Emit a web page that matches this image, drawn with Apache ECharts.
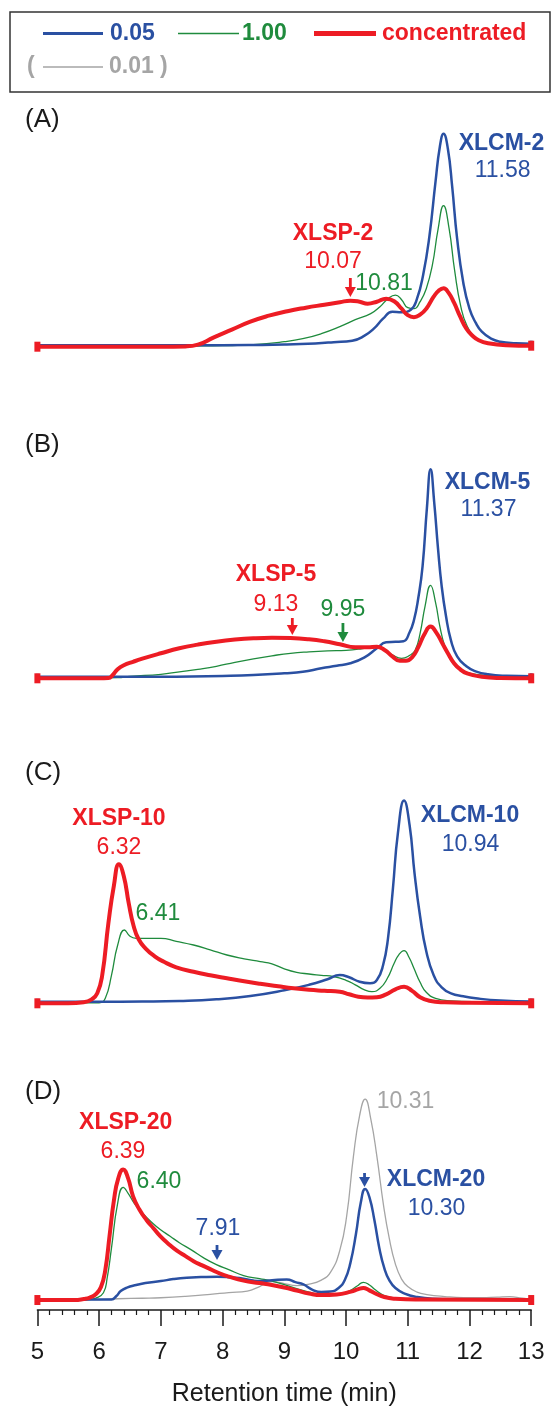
<!DOCTYPE html>
<html>
<head>
<meta charset="utf-8">
<script src="https://cdn.jsdelivr.net/npm/echarts@6.0.0/dist/echarts.min.js"></script>
<style>
html, body { margin: 0; padding: 0; background: #fff; }
#main { width: 559px; height: 1408px; }
</style>
</head>
<body>
<div id="main"></div>
<script>
// retention time (min) vs detector signal, signal
var xTickLabels = ['5', '6', '7', '8', '9', '10', '11', '12', '13'];

// (A) XLSP-2 / XLCM-2
var aBlue = [[5,1.5],[6,1.5],[7,1.5],[8,1.5],[8.5,1.7],[9,2.2],[9.5,3.3],[9.8,4.5],[10.1,6],[10.3,11],[10.45,18],[10.6,28],[10.75,35],[10.9,34.5],[11.05,37],[11.15,48],[11.25,72],[11.35,110],[11.45,165],[11.52,200],[11.58,213],[11.65,198],[11.72,160],[11.8,108],[11.9,64],[12.0,38],[12.1,24],[12.2,15],[12.35,8],[12.5,5],[12.75,3.5],[13,3]];
var aGreen = [[5,0.5],[6,0.5],[7,0.5],[7.5,0.7],[8,1],[8.5,2],[9,5],[9.3,8],[9.6,13],[9.9,20],[10.15,27],[10.4,33],[10.55,40],[10.68,48],[10.8,51.5],[10.9,47],[11.0,39],[11.1,38],[11.2,45],[11.3,58],[11.4,82],[11.49,117],[11.58,141],[11.67,118],[11.76,76],[11.86,40],[11.96,21],[12.1,9],[12.3,4],[12.6,2],[13,1.7]];
var aRed = [[5,0],[6,0],[7,0],[7.4,0.3],[7.6,2],[7.85,9],[8.15,17],[8.45,25],[8.75,31],[9.05,35.5],[9.35,39],[9.65,42],[9.9,44.5],[10.07,46],[10.22,45],[10.35,43],[10.5,45],[10.65,48],[10.78,45.5],[10.9,38],[11.0,31.5],[11.1,29.5],[11.2,32],[11.3,38],[11.42,50],[11.5,56],[11.58,58.5],[11.66,54],[11.75,44],[11.85,30],[11.95,18],[12.05,11],[12.15,6.5],[12.3,3.5],[12.6,1.5],[13,1]];

// (B) XLSP-5 / XLCM-5
var bBlue = [[5,1.5],[6,1.5],[7,1.5],[7.5,1.7],[8,2.3],[8.5,3.3],[9,5],[9.3,6.5],[9.6,10],[9.85,12.5],[10.07,15],[10.3,21],[10.5,30],[10.65,36],[10.8,36.5],[10.93,37],[11.03,46],[11.1,58],[11.17,80],[11.24,112],[11.31,170],[11.37,209],[11.43,175],[11.49,130],[11.55,92],[11.62,62],[11.7,38],[11.8,22],[11.95,12],[12.1,7],[12.3,4],[12.6,2.5],[13,2]];
var bGreen = [[5,0.5],[6,0.5],[6.3,0.6],[6.5,2],[7,4],[7.3,6.5],[7.6,9],[7.9,12],[8.2,16],[8.5,19.5],[8.8,22.5],[9.1,25],[9.4,26.5],[9.7,27.5],[10.0,28],[10.25,29.5],[10.45,31.5],[10.6,29],[10.75,23.5],[10.9,20],[11.02,22.5],[11.12,28],[11.2,45],[11.28,72],[11.37,93],[11.45,76],[11.52,52],[11.6,32],[11.7,18],[11.85,9],[12.05,4.5],[12.4,2.5],[13,1]];
var bRed = [[5,0],[6,0],[6.15,0.2],[6.22,3.3],[6.3,9],[6.4,13],[6.55,16.5],[6.7,19.6],[7.0,25],[7.3,30],[7.6,33.7],[7.9,36.6],[8.2,38.7],[8.5,40],[8.8,40.5],[9.1,40.2],[9.4,39],[9.65,37],[9.9,34],[10.15,31],[10.35,31],[10.5,31.5],[10.63,28],[10.75,22],[10.87,17.5],[10.97,17.5],[11.07,21],[11.17,31],[11.27,44],[11.37,51.7],[11.46,46],[11.56,35],[11.65,25],[11.75,15],[11.85,9],[11.96,5],[12.2,1.5],[12.5,0.3],[13,0]];

// (C) XLSP-10 / XLCM-10
var cBlue = [[5,1.5],[6,1.5],[6.7,1.7],[7.3,2.3],[7.9,4],[8.45,7.3],[9.0,13],[9.4,18.5],[9.7,24],[9.9,28.3],[10.05,26],[10.22,21.5],[10.39,20],[10.5,23.3],[10.6,38],[10.68,65],[10.76,115],[10.84,170],[10.94,202.7],[11.03,178],[11.11,130],[11.2,87],[11.3,52],[11.42,28],[11.55,16],[11.7,10],[11.9,7],[12.1,5],[12.5,2.7],[13,1.7]];
var cGreen = [[5,0.5],[6,0.5],[6.1,5],[6.2,28],[6.3,58],[6.41,73.3],[6.5,67],[6.6,65],[6.8,65],[7.0,65],[7.25,62],[7.53,58.3],[7.8,53.5],[8.07,48.3],[8.35,44.5],[8.61,41.7],[8.8,39.5],[9.0,34.5],[9.2,31],[9.4,29.3],[9.6,28],[9.8,26.7],[10.0,23],[10.15,18.5],[10.3,13.5],[10.42,11.7],[10.55,15],[10.67,25],[10.78,40],[10.86,49],[10.94,52.7],[11.02,46],[11.1,35],[11.2,21],[11.3,11],[11.45,5],[11.7,2.5],[12.2,1.5],[13,1]];
var cRed = [[5,0],[5.5,0],[5.75,1],[5.88,4],[5.97,10],[6.05,28],[6.15,80],[6.24,118],[6.32,139],[6.4,127],[6.48,100],[6.56,77],[6.64,64],[6.75,55],[6.9,47],[7.05,41.5],[7.25,36],[7.53,31.5],[7.8,28],[8.07,25],[8.35,22],[8.61,19.5],[8.9,17],[9.15,15],[9.4,13.5],[9.65,12.5],[9.9,11.5],[10.05,9],[10.2,6.5],[10.35,5.7],[10.5,6],[10.65,9],[10.8,14],[10.94,16.5],[11.07,12.5],[11.2,6],[11.35,2.5],[11.6,1],[12,0.5],[13,0]];

// (D) XLSP-20 / XLCM-20, plus the 0.01 trace
var dGray = [[5,0.5],[6,0.5],[6.3,1.3],[6.7,1.8],[7.0,2.3],[7.4,3.7],[7.8,5.7],[8.1,7.5],[8.4,9],[8.6,13.5],[8.8,18.5],[9.0,16.5],[9.2,14.5],[9.4,16],[9.6,20],[9.75,28],[9.9,50],[10.01,84],[10.12,144],[10.22,185],[10.31,201.4],[10.4,182],[10.5,144],[10.61,94],[10.7,62],[10.8,36],[10.9,21],[11.0,13.5],[11.15,8],[11.31,5.5],[11.6,3.5],[11.9,2.5],[12.2,2.5],[12.45,3],[12.65,3.4],[12.85,2],[13,1]];
var dBlue = [[5,0.5],[6,0.5],[6.2,0.6],[6.28,4],[6.35,9],[6.45,12.4],[6.6,15],[6.75,17],[7.0,19],[7.2,21],[7.42,22.4],[7.65,23],[7.91,23.4],[8.15,22.5],[8.34,21.4],[8.5,19.5],[8.61,19],[8.8,19.8],[9.04,20.7],[9.18,18],[9.31,15.7],[9.45,10.5],[9.6,8],[9.75,8.5],[9.88,12],[9.98,20],[10.07,37],[10.16,66],[10.24,98],[10.31,111.4],[10.38,103],[10.46,80],[10.54,52],[10.62,32],[10.7,20],[10.8,12],[10.95,6.5],[11.15,3],[11.4,1.3],[12,0.7],[13,0.5]];
var dGreen = [[5,0],[5.8,0.3],[5.95,2],[6.07,7.3],[6.13,22],[6.2,52],[6.3,97],[6.39,113],[6.47,107],[6.57,97],[6.7,87.3],[6.85,78],[6.99,70.7],[7.15,64],[7.3,57.5],[7.5,50],[7.7,42],[7.9,35.5],[8.1,30.5],[8.34,24.5],[8.6,21.5],[8.8,19],[9.0,15.5],[9.2,11.5],[9.4,8],[9.6,5.5],[9.85,5.8],[10.05,9],[10.18,14],[10.28,17.8],[10.38,15],[10.48,10],[10.6,5],[10.75,2.3],[11.0,1.2],[12,0.7],[13,0.5]];
var dRed = [[5,0],[5.6,0],[5.75,1],[5.85,2.5],[5.95,6],[6.03,13],[6.1,30],[6.17,65],[6.24,100],[6.31,122],[6.39,131],[6.47,122],[6.55,104],[6.65,91],[6.77,80],[6.88,72],[6.99,64],[7.12,56.5],[7.26,49.5],[7.4,44],[7.53,39],[7.66,35],[7.8,31],[7.96,26.5],[8.1,23.5],[8.34,19.5],[8.6,17],[8.8,15],[9.0,12.5],[9.2,9.5],[9.4,6.5],[9.6,5],[9.85,5.5],[10.08,8.4],[10.2,11],[10.28,12],[10.37,10],[10.46,7],[10.62,3],[10.8,1.3],[11.2,0.5],[13,0]];

var BLUE = '#2a50a2', GREEN = '#1f8b3d', RED = '#ed1c24', GRAY = '#a5a5a5', INK = '#1a1a1a';
var FONT = '"Liberation Sans", Arial, sans-serif';

var chart = echarts.init(document.getElementById('main'));

// panel grids, bottom edge sits 10px under each baseline
var gridTops = [106.7, 438.3, 763.3, 1060.7];

function pts(arr, size) {
    return arr.map(function (p, i) {
        var d = {value: p};
        if (size && (i === 0 || i === arr.length - 1)) {
            d.symbol = 'rect';
            d.symbolSize = size;
        }
        return d;
    });
}
function trace(arr, panel, color, width, size, z) {
    return {
        type: 'line', xAxisIndex: panel, yAxisIndex: panel,
        data: pts(arr, size), symbol: 'none', showSymbol: true,
        smooth: 0.5,
        lineStyle: {color: color, width: width, join: 'round', cap: 'round'},
        itemStyle: {color: color},
        silent: true, z: z
    };
}

var grids = [], xAxes = [], yAxes = [];
gridTops.forEach(function (top, i) {
    grids.push({left: 37.4, width: 493.8, top: top, height: 250});
    yAxes.push({gridIndex: i, type: 'value', min: -10, max: 240, show: false});
    var last = i === gridTops.length - 1;
    xAxes.push({
        gridIndex: i, type: 'value', min: 5, max: 13, interval: 1, show: last,
        axisLine: {show: true, onZero: false, lineStyle: {color: INK, width: 1.5}},
        axisTick: {show: true, inside: false, length: 16, lineStyle: {color: INK, width: 1.5}},
        minorTick: {show: true, splitNumber: 5, length: 5, lineStyle: {color: INK, width: 1.2}},
        splitLine: {show: false},
        axisLabel: {
            margin: 30, fontSize: 24, color: INK, fontFamily: FONT,
            formatter: function (v) { return xTickLabels[Math.round(v - 5)]; }
        },
        name: last ? 'Retention time (min)' : '', nameLocation: 'middle', nameGap: 72,
        nameTextStyle: {fontSize: 25, color: INK, fontFamily: FONT}
    });
});

var series = [
    trace(aGreen, 0, GREEN, 1.3, null, 2),
    trace(aBlue, 0, BLUE, 2.5, [3, 6], 3),
    trace(aRed, 0, RED, 4, [6, 10], 4),
    trace(bGreen, 1, GREEN, 1.3, null, 2),
    trace(bBlue, 1, BLUE, 2.5, [3, 6], 3),
    trace(bRed, 1, RED, 4, [6, 10], 4),
    trace(cGreen, 2, GREEN, 1.3, null, 2),
    trace(cBlue, 2, BLUE, 2.5, [3, 6], 3),
    trace(cRed, 2, RED, 4, [6, 10], 4),
    trace(dGray, 3, GRAY, 1.3, null, 1),
    trace(dGreen, 3, GREEN, 1.3, null, 2),
    trace(dBlue, 3, BLUE, 2.5, null, 3),
    trace(dRed, 3, RED, 4, [6, 10], 4)
];

chart.setOption({
    backgroundColor: '#fff',
    animation: false,
    grid: grids,
    xAxis: xAxes,
    yAxis: yAxes,
    series: series
});

function txt(s, x, y, color, bold, size, align) {
    return {
        type: 'text', x: x, y: y, silent: true, z: 10,
        style: {
            text: s, fill: color, align: align || 'center', verticalAlign: 'middle',
            font: (bold ? 'bold ' : '') + (size || 23) + 'px ' + FONT
        }
    };
}
function seg(x1, x2, y, color, w) {
    return {type: 'line', silent: true, shape: {x1: x1, y1: y, x2: x2, y2: y}, style: {stroke: color, lineWidth: w}};
}
function arrow(panel, t, y1, y2, color) {
    var x = chart.convertToPixel({xAxisIndex: panel}, t);
    return {
        type: 'group', silent: true, children: [
            {type: 'line', shape: {x1: x, y1: y1, x2: x, y2: y2 - 8}, style: {stroke: color, lineWidth: 2.8}},
            {type: 'polygon', shape: {points: [[x - 5.5, y2 - 10], [x + 5.5, y2 - 10], [x, y2]]}, style: {fill: color}}
        ]
    };
}

var g = [];
// legend box
g.push({type: 'rect', silent: true, shape: {x: 10, y: 12, width: 540, height: 80},
    style: {fill: 'none', stroke: '#333', lineWidth: 1.5}});
g.push(seg(43, 103, 33.5, BLUE, 3));
g.push(txt('0.05', 110, 34, BLUE, true, 23, 'left'));
g.push(seg(178, 239, 33.5, GREEN, 1.5));
g.push(txt('1.00', 242, 34, GREEN, true, 23, 'left'));
g.push(seg(314, 376, 33.5, RED, 5));
g.push(txt('concentrated', 382, 34, RED, true, 23, 'left'));
g.push(txt('(', 27, 67, GRAY, true, 23, 'left'));
g.push(seg(43, 103, 67, GRAY, 1.5));
g.push(txt('0.01', 109, 67, GRAY, true, 23, 'left'));
g.push(txt(')', 160, 67, GRAY, true, 23, 'left'));

// panel letters
g.push(txt('(A)', 25, 120, INK, false, 26, 'left'));
g.push(txt('(B)', 25, 445, INK, false, 26, 'left'));
g.push(txt('(C)', 25, 773, INK, false, 26, 'left'));
g.push(txt('(D)', 25, 1092, INK, false, 26, 'left'));

// (A)
g.push(txt('XLCM-2', 501.5, 143.3, BLUE, true));
g.push(txt('11.58', 502.6, 170.8, BLUE, false));
g.push(txt('XLSP-2', 333, 233.3, RED, true));
g.push(txt('10.07', 333, 261.7, RED, false));
g.push(txt('10.81', 384, 283.3, GREEN, false));
g.push(arrow(0, 10.07, 278, 297, RED));
// (B)
g.push(txt('XLCM-5', 487.5, 482.5, BLUE, true));
g.push(txt('11.37', 488.5, 510, BLUE, false));
g.push(txt('XLSP-5', 276, 575, RED, true));
g.push(txt('9.13', 276, 605, RED, false));
g.push(txt('9.95', 343, 610, GREEN, false));
g.push(arrow(1, 9.13, 618, 635, RED));
g.push(arrow(1, 9.95, 623, 642, GREEN));
// (C)
g.push(txt('XLSP-10', 119, 819, RED, true));
g.push(txt('6.32', 119, 848, RED, false));
g.push(txt('XLCM-10', 470, 816, BLUE, true));
g.push(txt('10.94', 470.5, 845, BLUE, false));
g.push(txt('6.41', 158, 914, GREEN, false));
// (D)
g.push(txt('XLSP-20', 125.7, 1123, RED, true));
g.push(txt('6.39', 123, 1152, RED, false));
g.push(txt('6.40', 159, 1182, GREEN, false));
g.push(txt('7.91', 218, 1229, BLUE, false));
g.push(txt('10.31', 405.5, 1102, GRAY, false));
g.push(txt('XLCM-20', 436, 1180, BLUE, true));
g.push(txt('10.30', 436.5, 1209, BLUE, false));
g.push(arrow(3, 7.91, 1245, 1260, BLUE));
g.push(arrow(3, 10.30, 1173, 1187, BLUE));

chart.setOption({graphic: g});
</script>
</body>
</html>
